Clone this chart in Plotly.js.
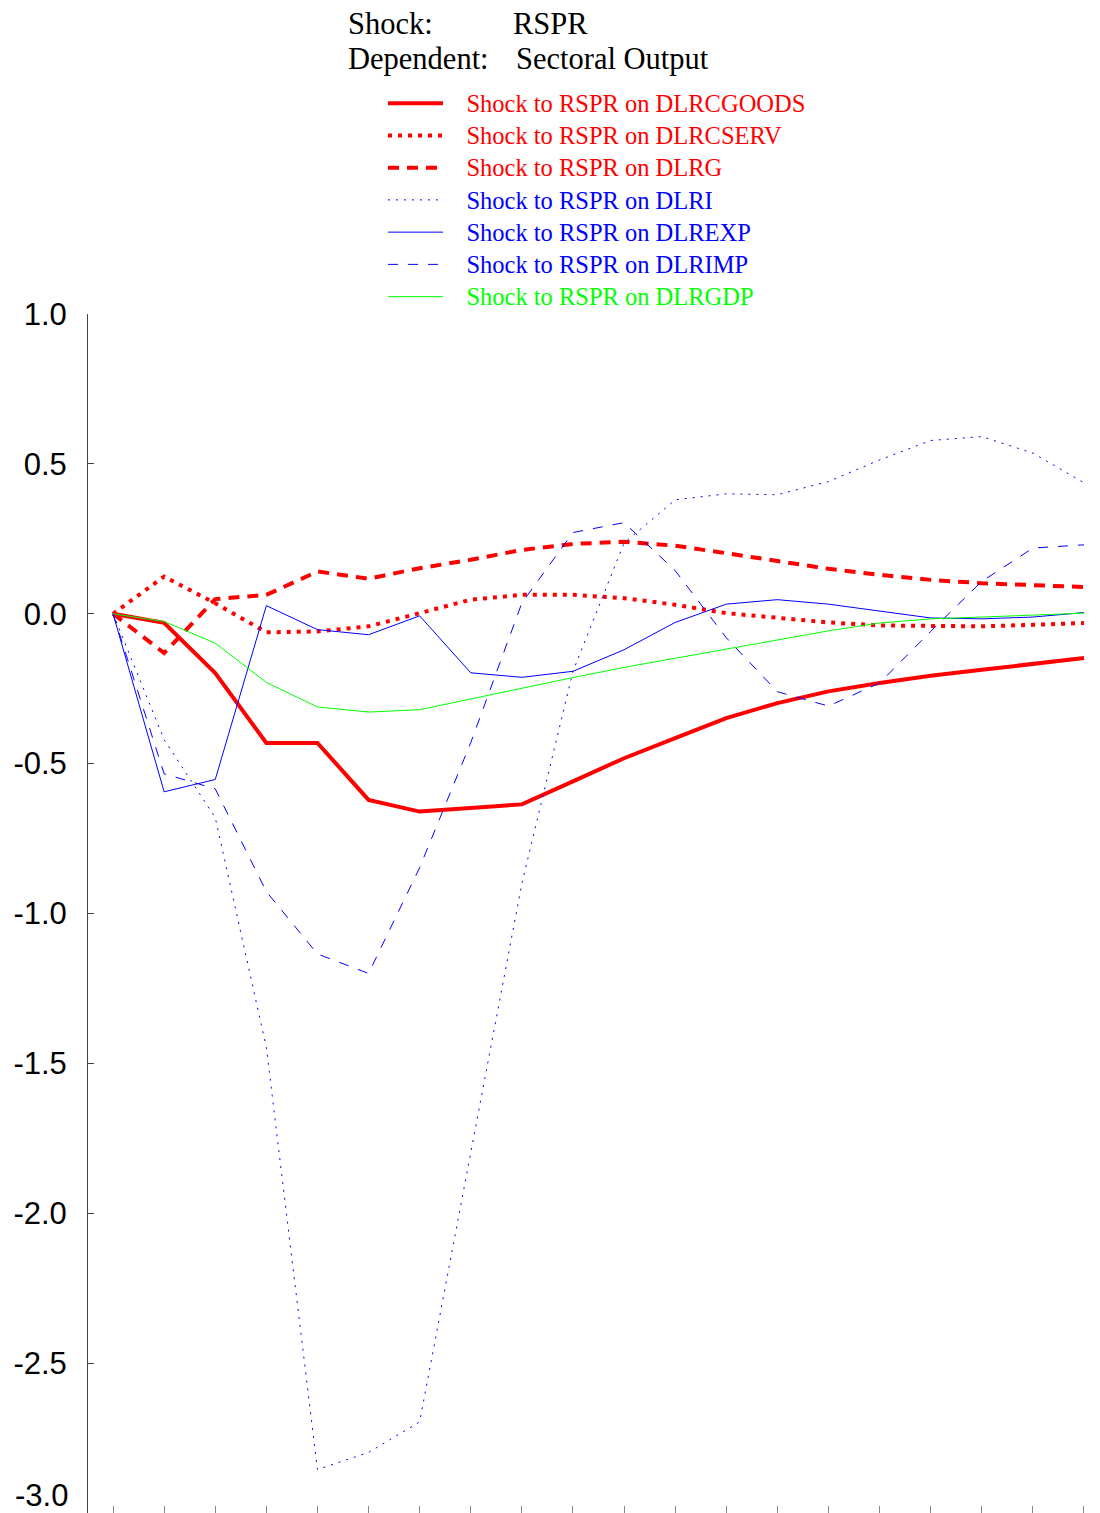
<!DOCTYPE html>
<html>
<head>
<meta charset="utf-8">
<script src="https://cdn.plot.ly/plotly-3.0.1.min.js"></script>
<style>html,body{margin:0;padding:0;background:#fff;}</style>
</head>
<body>
<div id="chart" style="width:1100px;height:1513px;"></div>
<script>
// ---- data ----
const horizons = [0,1,2,3,4,5,6,7,8,9,10,11,12,13,14,15,16,17,18,19];

const dlrcgoods = [0, -0.030, -0.198, -0.431, -0.431, -0.621, -0.660, -0.648, -0.636, -0.559,
                   -0.482, -0.415, -0.348, -0.298, -0.259, -0.231, -0.207, -0.187, -0.167, -0.148];
const dlrcserv  = [0, 0.124, 0.035, -0.062, -0.059, -0.042, 0.002, 0.047, 0.063, 0.063,
                   0.052, 0.030, 0.002, -0.014, -0.029, -0.039, -0.042, -0.042, -0.037, -0.031];
const dlrg      = [0, -0.131, 0.049, 0.063, 0.141, 0.117, 0.152, 0.180, 0.213, 0.233,
                   0.240, 0.227, 0.202, 0.177, 0.150, 0.130, 0.113, 0.102, 0.094, 0.089];
const dlri      = [0, -0.420, -0.680, -1.447, -2.855, -2.798, -2.696, -1.800, -0.900, -0.192,
                   0.236, 0.380, 0.400, 0.397, 0.441, 0.513, 0.578, 0.591, 0.536, 0.437];
const dlrexp    = [0, -0.594, -0.553, 0.027, -0.053, -0.070, -0.007, -0.197, -0.212, -0.192,
                   -0.120, -0.029, 0.032, 0.047, 0.032, 0.008, -0.014, -0.017, -0.011, 0.004];
const dlrimp    = [0, -0.534, -0.584, -0.927, -1.135, -1.200, -0.847, -0.430, 0.036, 0.271,
                   0.304, 0.144, -0.080, -0.260, -0.308, -0.231, -0.059, 0.108, 0.219, 0.230];
const dlrgdp    = [0, -0.026, -0.098, -0.229, -0.311, -0.328, -0.320, -0.284, -0.250, -0.213,
                   -0.179, -0.148, -0.117, -0.087, -0.057, -0.031, -0.017, -0.011, -0.004, 0.002];

const seriesNames = [
  "Shock to RSPR on DLRCGOODS",
  "Shock to RSPR on DLRCSERV",
  "Shock to RSPR on DLRG",
  "Shock to RSPR on DLRI",
  "Shock to RSPR on DLREXP",
  "Shock to RSPR on DLRIMP",
  "Shock to RSPR on DLRGDP"
];
const yTickVals = [-2.5, -2.0, -1.5, -1.0, -0.5, 0.0, 0.5, 1.0];
const yTickText = ["-2.5", "-2.0", "-1.5", "-1.0", "-0.5", "0.0", "0.5", "1.0"];
const yBottomLabel = "-3.0";
const titleShockLabel = "Shock:";
const titleShockValue = "RSPR";
const titleDepLabel = "Dependent:";
const titleDepValue = "Sectoral Output";

// ---- styles ----
const RED = "#ff0000", BLUE = "#0000ff", GREEN = "#00ff00";
const styles = [
  {color: RED,   width: 4, dash: "solid"},
  {color: RED,   width: 4, dash: "4px,6px"},
  {color: RED,   width: 4, dash: "11px,8px"},
  {color: BLUE,  width: 1, dash: "2px,6px"},
  {color: BLUE,  width: 1, dash: "solid"},
  {color: BLUE,  width: 1, dash: "10px,10px"},
  {color: GREEN, width: 1, dash: "solid"}
];
const values = [dlrcgoods, dlrcserv, dlrg, dlri, dlrexp, dlrimp, dlrgdp];

const NB = "\u00a0\u00a0\u00a0"; // visual gap between legend sample and label
const traces = values.map((v, i) => ({
  type: "scatter",
  mode: "lines",
  x: horizons,
  y: v,
  name: '<span style="color:' + styles[i].color + ';font-size:24.5px">' + NB + seriesNames[i] + '</span>',
  line: {color: styles[i].color, width: styles[i].width, dash: styles[i].dash},
  hoverinfo: "skip"
}));

const H = 1513, T = 314, B = 0;
const plotH = H - T - B;
const py = p => (H - B - p) / plotH;   // pixel row -> paper y

const serif = "Liberation Serif, Times New Roman, serif";
const sans = "Liberation Sans, Arial, sans-serif";
const titleFont = {family: serif, size: 30.5, color: "#000"};

const layout = {
  width: 1100,
  height: H,
  margin: {l: 88, r: 15, t: T, b: B, pad: 0},
  paper_bgcolor: "#ffffff",
  plot_bgcolor: "#ffffff",
  showlegend: true,
  legend: {
    x: (383 - 88) / 997,
    y: py(82),
    xanchor: "left",
    yanchor: "top",
    bgcolor: "rgba(0,0,0,0)",
    borderwidth: 0,
    font: {family: serif, size: 22.5, color: "#000"},
    traceorder: "normal",
    itemwidth: 55,
    tracegroupgap: 0
  },
  xaxis: {
    range: [-0.49, 19.02],
    tickmode: "array",
    tickvals: horizons,
    showticklabels: false,
    ticks: "inside",
    ticklen: 7,
    tickwidth: 1,
    tickcolor: "#888888",
    showline: false,
    showgrid: false,
    zeroline: false,
    fixedrange: true
  },
  yaxis: {
    range: [-3, 1],
    tickmode: "array",
    tickvals: yTickVals,
    ticktext: yTickText,
    ticks: "inside",
    ticklen: 6,
    tickwidth: 1,
    tickcolor: "#444444",
    tickfont: {family: sans, size: 31, color: "#000"},
    ticklabelstandoff: 14,
    showline: true,
    linecolor: "#444444",
    linewidth: 1,
    showgrid: false,
    zeroline: false,
    fixedrange: true
  },
  annotations: [
    {xref: "paper", yref: "paper", x: (347 - 88) / 997, y: py(24.5), xanchor: "left", yanchor: "middle", borderpad: 0,
     text: titleShockLabel, showarrow: false, font: titleFont},
    {xref: "paper", yref: "paper", x: (512 - 88) / 997, y: py(24.5), xanchor: "left", yanchor: "middle", borderpad: 0,
     text: titleShockValue, showarrow: false, font: titleFont},
    {xref: "paper", yref: "paper", x: (347 - 88) / 997, y: py(59), xanchor: "left", yanchor: "middle", borderpad: 0,
     text: titleDepLabel, showarrow: false, font: titleFont},
    {xref: "paper", yref: "paper", x: (515 - 88) / 997, y: py(59), xanchor: "left", yanchor: "middle", borderpad: 0,
     text: titleDepValue, showarrow: false, font: titleFont},
    {xref: "paper", yref: "y", x: 0, y: -3, xanchor: "right", yanchor: "bottom", xshift: -18, yshift: -2,
     text: yBottomLabel, showarrow: false, font: {family: sans, size: 31, color: "#000"}}
  ]
};

Plotly.newPlot("chart", traces, layout, {staticPlot: true, displayModeBar: false});
</script>
</body>
</html>
